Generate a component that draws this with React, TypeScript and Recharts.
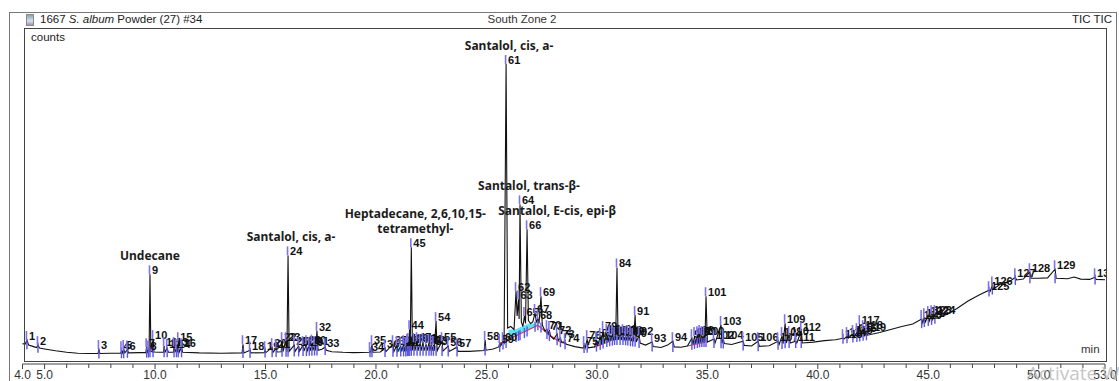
import React from "react";
import { ComposedChart, Line, Area, Scatter, XAxis, YAxis } from "recharts";

// TIC trace: retention time (min), counts as % of the largest peak
const trace: [number, number][] = [
  [4.0, 6.8], [4.12, 6.6], [4.2, 8.0], [4.28, 6.3], [4.5, 5.8], [4.64, 5.5], [4.7, 6.3], [4.77, 5.3],
  [5.0, 5.0], [5.5, 4.4], [6.0, 3.9], [6.5, 3.6], [7.0, 3.5], [7.42, 3.5], [7.46, 5.0], [7.5, 3.5],
  [8.0, 3.6], [8.45, 3.6], [8.48, 4.6], [8.52, 3.7], [8.58, 5.0], [8.63, 3.7], [8.75, 4.8], [8.8, 3.7],
  [9.3, 3.8], [9.58, 3.8], [9.62, 5.6], [9.66, 4.0], [9.7, 4.8], [9.73, 4.0], [9.77, 29.9], [9.81, 4.2],
  [9.88, 4.0], [9.91, 8.3], [9.95, 4.0], [10.2, 3.9], [10.38, 3.9], [10.41, 6.0], [10.45, 3.9],
  [10.55, 5.3], [10.6, 3.9], [10.83, 3.9], [10.86, 6.0], [10.9, 3.9], [10.97, 5.3], [11.01, 3.9],
  [11.05, 7.6], [11.09, 3.9], [11.2, 5.6], [11.25, 3.9], [12.0, 3.7], [13.0, 3.6], [13.94, 3.7],
  [13.98, 6.6], [14.02, 3.7], [14.3, 4.6], [14.34, 3.7], [14.94, 3.8], [14.98, 4.6], [15.02, 3.8],
  [15.3, 5.6], [15.34, 3.9], [15.48, 5.3], [15.52, 4.0], [15.71, 4.1], [15.75, 7.6], [15.79, 4.1],
  [15.93, 7.6], [15.97, 4.1], [16.02, 36.2], [16.07, 4.2], [16.3, 6.3], [16.34, 4.2], [16.5, 6.0],
  [16.54, 4.3], [16.7, 6.3], [16.74, 4.3], [16.85, 6.6], [16.89, 4.4], [16.98, 6.0], [17.02, 4.4],
  [17.1, 6.8], [17.14, 4.5], [17.22, 6.3], [17.26, 4.5], [17.33, 11.0], [17.38, 4.6], [17.55, 4.9],
  [17.7, 5.6], [17.75, 4.6], [18.0, 4.1], [18.5, 3.9], [19.0, 3.8], [19.7, 3.9], [19.73, 4.3],
  [19.77, 3.9], [19.82, 6.6], [19.86, 3.9], [20.2, 4.0], [20.41, 5.3], [20.45, 4.1], [20.77, 6.6],
  [20.81, 4.1], [20.95, 6.3], [20.99, 4.2], [21.12, 6.0], [21.16, 4.2], [21.25, 6.6], [21.29, 4.2],
  [21.35, 6.0], [21.38, 4.3], [21.42, 7.0], [21.44, 4.3], [21.46, 7.3], [21.48, 4.3], [21.52, 11.6],
  [21.55, 4.4], [21.6, 38.9], [21.65, 4.5], [21.72, 7.3], [21.76, 4.4], [21.86, 7.6], [21.9, 4.4],
  [22.0, 7.0], [22.04, 4.4], [22.13, 7.3], [22.17, 4.4], [22.27, 6.6], [22.31, 4.4], [22.4, 7.0],
  [22.44, 4.4], [22.5, 6.6], [22.54, 4.4], [22.6, 6.3], [22.64, 4.4], [22.72, 14.3], [22.77, 4.4],
  [22.99, 7.6], [23.03, 4.3], [23.27, 6.0], [23.31, 4.2], [23.67, 5.6], [23.71, 4.2], [24.2, 4.2],
  [24.9, 4.5], [24.94, 8.0], [24.98, 4.6], [25.3, 5.0], [25.56, 5.7], [25.6, 7.0], [25.64, 6.0],
  [25.75, 7.6], [25.8, 7.0], [25.89, 100], [25.96, 12.0], [26.1, 12.5], [26.25, 11.5], [26.34, 24.3],
  [26.39, 16.0], [26.45, 21.6], [26.48, 15.0], [26.52, 53.2], [26.58, 14.0], [26.65, 12.5],
  [26.72, 16.0], [26.77, 13.5], [26.84, 44.9], [26.9, 14.5], [27.0, 13.5], [27.1, 14.0], [27.2, 17.0],
  [27.26, 14.0], [27.33, 15.0], [27.38, 13.5], [27.47, 22.6], [27.53, 13.0], [27.65, 11.0],
  [27.74, 11.6], [27.8, 10.0], [27.85, 11.3], [27.9, 9.3], [28.05, 8.3], [28.2, 10.0], [28.25, 7.9],
  [28.35, 8.6], [28.4, 7.3], [28.56, 7.3], [28.62, 6.6], [29.0, 5.8], [29.38, 5.3], [29.42, 6.3],
  [29.47, 5.3], [29.56, 8.3], [29.6, 5.4], [29.9, 5.7], [29.98, 8.0], [30.03, 6.0], [30.15, 9.0],
  [30.2, 6.5], [30.28, 11.3], [30.33, 7.0], [30.45, 10.3], [30.5, 7.5], [30.58, 9.6], [30.63, 7.7],
  [30.7, 10.0], [30.75, 7.9], [30.8, 9.3], [30.85, 8.0], [30.91, 32.2], [30.96, 8.1], [31.05, 9.6],
  [31.1, 8.0], [31.18, 10.3], [31.23, 8.0], [31.3, 9.3], [31.35, 7.9], [31.4, 10.0], [31.45, 7.8],
  [31.52, 9.6], [31.56, 7.6], [31.62, 9.0], [31.66, 7.5], [31.73, 16.3], [31.78, 7.3], [31.91, 9.6],
  [31.96, 7.0], [32.2, 6.3], [32.5, 7.3], [32.55, 5.8], [32.9, 5.5], [33.2, 6.3], [33.44, 7.6],
  [33.5, 5.7], [33.8, 5.6], [34.1, 6.0], [34.3, 8.6], [34.35, 6.5], [34.42, 9.3], [34.47, 6.8],
  [34.55, 9.6], [34.6, 7.0], [34.65, 10.0], [34.7, 7.2], [34.75, 9.6], [34.8, 7.3], [34.85, 9.6],
  [34.89, 7.3], [34.94, 22.6], [35.0, 7.3], [35.3, 8.3], [35.35, 7.0], [35.62, 13.0], [35.66, 6.9],
  [35.72, 8.3], [35.77, 6.8], [36.1, 6.5], [36.62, 7.6], [36.67, 6.2], [37.0, 6.0], [37.3, 7.6],
  [37.35, 5.9], [37.8, 6.1], [38.2, 7.6], [38.25, 6.5], [38.38, 9.3], [38.43, 6.8], [38.52, 13.6],
  [38.57, 7.0], [38.7, 9.6], [38.75, 7.0], [39.0, 7.6], [39.05, 7.0], [39.25, 11.0], [39.3, 7.0],
  [39.8, 7.3], [40.3, 7.8], [40.8, 8.1], [41.14, 8.6], [41.2, 8.4], [41.32, 9.3], [41.38, 8.6],
  [41.59, 10.0], [41.64, 8.8], [41.77, 10.6], [41.82, 9.0], [41.9, 13.3], [41.95, 9.2], [42.05, 11.6],
  [42.1, 9.4], [42.2, 11.0], [42.25, 9.6], [42.8, 10.5], [43.3, 11.5], [43.8, 12.5], [44.3, 13.3],
  [44.7, 15.0], [44.75, 13.7], [44.82, 15.6], [44.87, 14.0], [45.0, 16.3], [45.05, 14.4],
  [45.15, 16.6], [45.2, 14.8], [45.3, 16.6], [45.35, 15.2], [45.8, 16.4], [46.3, 18.5], [46.8, 21.0],
  [47.3, 23.0], [47.75, 24.6], [47.8, 24.2], [47.9, 26.2], [47.95, 25.0], [48.3, 26.8], [48.7, 27.6],
  [48.94, 28.9], [49.0, 28.0], [49.3, 28.3], [49.6, 30.6], [49.65, 28.6], [50.0, 28.6], [50.4, 28.7],
  [50.74, 31.6], [50.79, 28.6], [51.3, 28.4], [51.6, 29.0], [51.9, 28.3], [52.3, 28.2], [52.55, 28.9],
  [52.6, 28.2], [53.0, 28.1],
];

// integrated peaks, numbered 1..130 in elution order
const peakTimes = [
  4.2, 4.7, 7.46, 8.48, 8.58, 8.75, 9.62, 9.7, 9.77, 9.91,
  10.41, 10.55, 10.86, 10.97, 11.05, 11.2, 13.98, 14.3, 14.98, 15.3,
  15.48, 15.75, 15.93, 16.02, 16.3, 16.5, 16.7, 16.85, 16.98, 17.1,
  17.22, 17.33, 17.7, 19.73, 19.82, 20.41, 20.77, 20.95, 21.12, 21.25,
  21.35, 21.42, 21.46, 21.52, 21.6, 21.72, 21.86, 22.0, 22.13, 22.27,
  22.4, 22.5, 22.6, 22.72, 22.99, 23.27, 23.67, 24.94, 25.6, 25.75,
  25.89, 26.34, 26.45, 26.52, 26.72, 26.84, 27.2, 27.33, 27.47, 27.74,
  27.85, 28.2, 28.35, 28.56, 29.42, 29.56, 29.98, 30.15, 30.28, 30.45,
  30.58, 30.7, 30.8, 30.91, 31.05, 31.18, 31.3, 31.4, 31.52, 31.62,
  31.73, 31.91, 32.5, 33.44, 34.3, 34.42, 34.55, 34.65, 34.75, 34.85,
  34.94, 35.3, 35.62, 35.72, 36.62, 37.3, 38.2, 38.38, 38.52, 38.7,
  39.0, 39.25, 41.14, 41.32, 41.59, 41.77, 41.9, 42.05, 42.2, 44.7,
  44.82, 45.0, 45.15, 45.3, 47.75, 47.9, 48.94, 49.6, 50.74, 52.55,
];
const peakTops = [
  8.0, 6.3, 5.0, 4.6, 5.0, 4.8, 5.6, 4.8, 29.9, 8.3,
  6.0, 5.3, 6.0, 5.3, 7.6, 5.6, 6.6, 4.6, 4.6, 5.6,
  5.3, 7.6, 7.6, 36.2, 6.3, 6.0, 6.3, 6.6, 6.0, 6.8,
  6.3, 11.0, 5.6, 4.3, 6.6, 5.3, 6.6, 6.3, 6.0, 6.6,
  6.0, 7.0, 7.3, 11.6, 38.9, 7.3, 7.6, 7.0, 7.3, 6.6,
  7.0, 6.6, 6.3, 14.3, 7.6, 6.0, 5.6, 8.0, 7.0, 7.6,
  100, 24.3, 21.6, 53.2, 16.0, 44.9, 17.0, 15.0, 22.6, 11.6,
  11.3, 10.0, 8.6, 7.3, 6.3, 8.3, 8.0, 9.0, 11.3, 10.3,
  9.6, 10.0, 9.3, 32.2, 9.6, 10.3, 9.3, 10.0, 9.6, 9.0,
  16.3, 9.6, 7.3, 7.6, 8.6, 9.3, 9.6, 10.0, 9.6, 9.6,
  22.6, 8.3, 13.0, 8.3, 7.6, 7.6, 7.6, 9.3, 13.6, 9.6,
  7.6, 11.0, 8.6, 9.3, 10.0, 10.6, 13.3, 11.6, 11.0, 15.0,
  15.6, 16.3, 16.6, 16.6, 24.6, 26.2, 28.9, 30.6, 31.6, 28.9,
];
const peakBases = [
  6.6, 5.4, 3.5, 3.6, 3.6, 3.7, 3.8, 3.8, 3.9, 3.9,
  3.9, 3.9, 3.9, 3.9, 3.9, 3.9, 3.7, 3.7, 3.8, 3.9,
  4.0, 4.1, 4.1, 4.1, 4.2, 4.2, 4.3, 4.3, 4.4, 4.4,
  4.5, 4.5, 4.7, 3.9, 3.9, 4.0, 4.1, 4.1, 4.2, 4.2,
  4.2, 4.3, 4.3, 4.3, 4.4, 4.4, 4.4, 4.4, 4.4, 4.4,
  4.4, 4.4, 4.4, 4.4, 4.3, 4.2, 4.2, 4.5, 5.7, 6.5,
  7.0, 9.0, 9.4, 9.6, 10.3, 10.8, 12.4, 12.9, 12.2, 10.0,
  9.3, 7.9, 7.3, 6.6, 5.3, 5.4, 5.8, 6.3, 6.8, 7.3,
  7.6, 7.8, 8.0, 8.0, 8.0, 8.0, 7.9, 7.8, 7.6, 7.5,
  7.4, 7.0, 5.8, 5.7, 6.4, 6.7, 7.0, 7.2, 7.3, 7.3,
  7.3, 7.0, 6.9, 6.8, 6.2, 5.9, 6.4, 6.7, 6.9, 7.0,
  7.0, 7.0, 8.4, 8.6, 8.8, 9.0, 9.2, 9.4, 9.6, 13.6,
  14.0, 14.3, 14.7, 15.1, 24.2, 24.8, 28.0, 28.6, 28.6, 28.2,
];

// identified compounds
const namedPeaks = [9, 24, 45, 61, 64, 66];
const compoundNames = [
  ["Undecane"],
  ["Santalol, cis, a-"],
  ["Heptadecane, 2,6,10,15-", "tetramethyl-"],
  ["Santalol, cis, a-"],
  ["Santalol, trans-β-"],
  ["Santalol, E-cis, epi-β"],
];

// integration baselines (red) and filled peak areas (cyan): [t, low, high]
const redBaselines: [number, number][][] = [
  [[25.6, 6.8], [27.33, 12.9]],
  [[27.33, 12.9], [27.8, 10.0], [28.2, 7.9], [28.6, 6.6]],
  [[29.9, 5.7], [30.6, 7.6]],
  [[34.1, 6.0], [34.9, 7.3]],
];
const cyanBands: [number, number, number][][] = [
  [[26.0, 8.2, 11.5], [26.3, 9.3, 11.5], [26.6, 10.3, 12.5], [26.9, 11.4, 13.5], [27.2, 12.4, 13.5], [27.33, 12.9, 13.0]],
  [[30.1, 6.3, 7.5], [30.4, 7.2, 8.8], [30.7, 7.8, 9.2], [31.0, 8.0, 9.0], [31.3, 7.9, 8.8]],
  [[20.9, 4.1, 5.2], [21.2, 4.2, 5.6], [21.45, 4.3, 5.8]],
  [[34.25, 6.3, 7.6], [34.55, 7.0, 8.4], [34.85, 7.3, 8.2]],
];

const xTicks = [
  4, 5, 6, 7, 8, 9, 10, 11, 12, 13, 14, 15, 16, 17, 18, 19, 20, 21, 22, 23, 24, 25, 26, 27, 28,
  29, 30, 31, 32, 33, 34, 35, 36, 37, 38, 39, 40, 41, 42, 43, 44, 45, 46, 47, 48, 49, 50, 51, 52, 53,
];
const labelledTicks = [4, 5, 10, 15, 20, 25, 30, 35, 40, 45, 50, 53];

// horizontal shift of each compound name relative to its peak
const nameShift: Record<number, number> = { 9: 0, 24: 3, 45: 4, 61: 3, 64: 9, 66: 30 };

const traceData = trace.map(([t, v]) => ({ t, v }));
const peakData = peakTimes.map((t, i) => ({ t, v: peakTops[i], id: i + 1 }));
const baseData = peakTimes.map((t, i) => ({ t, v: peakBases[i] }));
const nameData = namedPeaks.map((id, i) => ({
  t: peakTimes[id - 1],
  v: peakTops[id - 1],
  id,
  lines: compoundNames[i],
}));

const AxisTick = ({ x, y, payload }: any) => {
  const major = labelledTicks.includes(payload.value);
  return (
    <g>
      <line x1={x} x2={x} y1={y} y2={y + (major ? 5 : 4)} stroke="#444" />
      {major && (
        <text x={x} y={y + 15} textAnchor="middle" fontSize={12} fill="#333"
          fontFamily='"Liberation Sans", Arial, sans-serif'>
          {payload.value.toFixed(1)}
        </text>
      )}
    </g>
  );
};

const PeakMark = ({ cx, cy, payload }: any) => (
  <g>
    <line x1={cx - 0.5} x2={cx - 0.5} y1={cy - 9} y2={cy} stroke="#7a74ee" strokeWidth={1.6} />
    <text x={cx + 2} y={cy} fontSize={11} fontWeight={700} fill="#111"
      fontFamily='"Liberation Sans", Arial, sans-serif'>
      {payload.id}
    </text>
  </g>
);

const BaseMark = ({ cx, cy }: any) => (
  <line x1={cx} x2={cx} y1={cy - 5} y2={cy + 5} stroke="#5b55e0" strokeWidth={1.4} />
);

const NameMark = ({ cx, cy, payload }: any) => {
  const lines: string[] = payload.lines;
  const dx = nameShift[payload.id] ?? 0;
  return (
    <g>
      {lines.map((s, k) => (
        <text key={k} x={cx + dx} y={cy - 14 - (lines.length - 1 - k) * 15} textAnchor="middle"
          fontSize={12} fontWeight={700} fill="#1c1c1c" fontFamily='"Noto Sans", sans-serif'>
          {s}
        </text>
      ))}
    </g>
  );
};

const abs = (l: number, t: number, w: number, h: number): React.CSSProperties => ({
  position: "absolute", left: l, top: t, width: w, height: h, boxSizing: "border-box",
});

export default function App() {
  return (
    <div style={{ ...abs(0, 0, 1119, 381), background: "#fff", overflow: "hidden",
      fontFamily: '"Liberation Sans", Arial, sans-serif' }}>
      <ComposedChart width={1119} height={381} data={traceData}
        margin={{ top: 64, right: 14, bottom: 0, left: 22.5 }}>
        <XAxis dataKey="t" type="number" domain={[4, 53]} ticks={xTicks} interval={0}
          tickLine={false} tickSize={0} tickMargin={0} height={17}
          axisLine={{ stroke: "#444" }} tick={(p: any) => <AxisTick {...p} />} />
        <YAxis type="number" domain={[0, 100]} hide width={0} />
        {cyanBands.map((band, i) => (
          <Area key={"c" + i} data={band.map(([t, lo, hi]) => ({ t, band: [lo, hi] }))}
            dataKey="band" type="linear" stroke="none" fill="#3fe0ee" fillOpacity={0.85}
            isAnimationActive={false} />
        ))}
        {redBaselines.map((seg, i) => (
          <Line key={"r" + i} data={seg.map(([t, v]) => ({ t, v }))} dataKey="v" type="linear"
            stroke="#e8323c" strokeWidth={1.2} dot={false} isAnimationActive={false} />
        ))}
        <Line dataKey="v" type="linear" stroke="#111" strokeWidth={1.1} dot={false}
          isAnimationActive={false} />
        <Scatter data={baseData} dataKey="v" shape={(p: any) => <BaseMark {...p} />}
          isAnimationActive={false} />
        <Scatter data={peakData} dataKey="v" shape={(p: any) => <PeakMark {...p} />}
          isAnimationActive={false} />
        <Scatter data={nameData} dataKey="v" shape={(p: any) => <NameMark {...p} />}
          isAnimationActive={false} />
      </ComposedChart>

      {/* window frames */}
      <div style={{ ...abs(1107, 29, 9, 332), background: "#fff" }} />
      <div style={{ ...abs(9, 12, 1108, 380), border: "1px solid #777" }} />
      <div style={{ ...abs(24, 28, 1083, 334), border: "1.5px solid #444" }} />
      <div style={{ ...abs(26, 14, 8, 12), background: "linear-gradient(#8aa 0%, #dde 60%, #99a 100%)",
        border: "1px solid #889" }} />
      <div style={{ position: "absolute", left: 40, top: 13, fontSize: 11.5, color: "#222",
        whiteSpace: "nowrap" }}>
        1667 <i>S. album</i> Powder (27) #34
      </div>
      <div style={{ position: "absolute", left: 470, top: 13, width: 104, textAlign: "center",
        fontSize: 11.5, color: "#333" }}>
        South Zone 2
      </div>
      <div style={{ position: "absolute", right: 1119 - 1112, top: 13, fontSize: 11.5, color: "#222" }}>
        TIC TIC
      </div>
      <div style={{ position: "absolute", left: 31, top: 31, fontSize: 11.5, color: "#222" }}>
        counts
      </div>
      <div style={{ position: "absolute", left: 1081, top: 343, fontSize: 11.5, color: "#333" }}>
        min
      </div>
      <div style={{ position: "absolute", left: 1027, top: 360, fontSize: 19, color: "#b8b8b8",
        opacity: 0.8, fontFamily: '"Open Sans", sans-serif', whiteSpace: "nowrap" }}>
        Activate W
      </div>
    </div>
  );
}
